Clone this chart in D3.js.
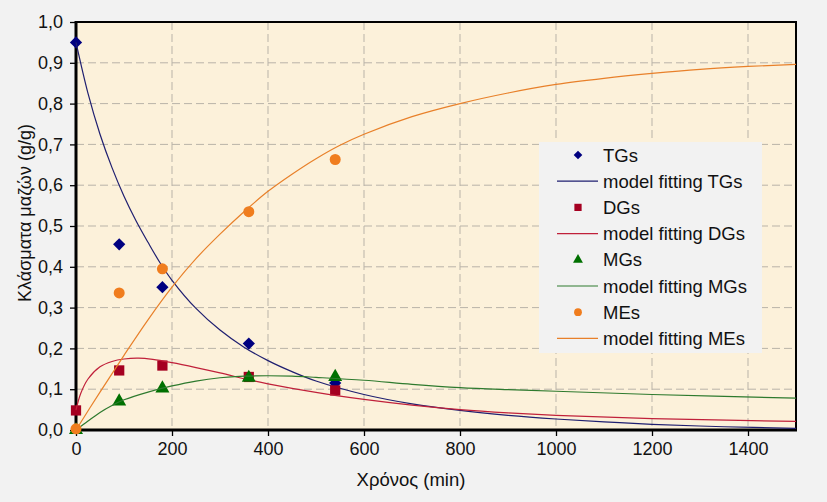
<!DOCTYPE html>
<html><head><meta charset="utf-8">
<script src="https://cdn.jsdelivr.net/npm/d3@7"></script>
<style>body{margin:0;background:#F2F2F2;}svg{display:block;font-family:"Liberation Sans",Arial,sans-serif;}</style>
</head><body>
<svg id="c" width="827" height="502"></svg>
<script>
// ---- data ----
const xTicks = [0,200,400,600,800,1000,1200,1400];
const yTicks = [0,0.1,0.2,0.3,0.4,0.5,0.6,0.7,0.8,0.9,1.0];
const sampleTimes = [0,90,180,360,540];
const tgPoints = [0.95,0.455,0.35,0.212,0.115];
const dgPoints = [0.048,0.146,0.158,0.130,0.097];
const mgPoints = [0.0,0.070,0.102,0.128,0.130];
const mePoints = [0.003,0.336,0.395,0.535,0.663];

const tgFitT = [0,25,50,75,100,125,150,175,200,250,300,350,400,450,500,600,700,800,900,1000,1100,1200,1350,1500];
const tgFitV = [0.95,0.825,0.725,0.643,0.573,0.513,0.46,0.41,0.367,0.298,0.245,0.203,0.17,0.143,0.12,0.087,0.064,0.048,0.036,0.027,0.02,0.014,0.008,0.004];
const dgFitT = [0,10,25,50,75,100,130,160,200,250,300,360,400,500,600,700,800,900,1000,1200,1500];
const dgFitV = [0.049,0.09,0.125,0.155,0.168,0.174,0.176,0.173,0.165,0.153,0.14,0.123,0.113,0.092,0.075,0.061,0.05,0.042,0.036,0.028,0.021];
const mgFitT = [0,25,50,75,100,150,200,250,300,350,400,450,500,600,700,800,900,1000,1200,1500];
const mgFitV = [0,0.022,0.043,0.06,0.074,0.093,0.108,0.12,0.128,0.132,0.133,0.132,0.129,0.122,0.112,0.104,0.099,0.095,0.087,0.078];
const meFitT = [0,50,100,150,200,250,300,350,400,450,500,550,600,700,800,900,1000,1100,1200,1300,1400,1500];
const meFitV = [0,0.093,0.183,0.27,0.35,0.42,0.48,0.535,0.585,0.627,0.665,0.698,0.725,0.768,0.80,0.826,0.847,0.862,0.874,0.884,0.891,0.896];

const seriesNames = ["TGs","DGs","MGs","MEs"];
const fitNames = ["model fitting TGs","model fitting DGs","model fitting MGs","model fitting MEs"];
const xTitle = "Χρόνος (min)";
const yTitle = "Κλάσματα μαζών (g/g)";

// ---- chart ----
const svg = d3.select("#c");
const L=76, R=796, T=22, B=430;
const x = d3.scaleLinear().domain([0,1500]).range([L,R]);
const y = d3.scaleLinear().domain([0,1]).range([B,T]);

const colors = {TG:"#000080", DG:"#A50021", MG:"#007000", ME:"#F07D1E"};
const lineColors = {TG:"#1F1F70", DG:"#C0203A", MG:"#2E7A2E", ME:"#E8802A"};

svg.append("rect").attr("x",L).attr("y",T).attr("width",R-L).attr("height",B-T).attr("fill","#FCF1DA");

// grid
const grid = svg.append("g").attr("stroke","#B9B3A8").attr("stroke-width",1).attr("stroke-dasharray","8,4");
xTicks.filter(d=>d>0).forEach(d=>grid.append("line").attr("x1",x(d)).attr("x2",x(d)).attr("y1",T).attr("y2",B));
yTicks.filter(d=>d>0 && d<1).forEach(d=>grid.append("line").attr("x1",L).attr("x2",R).attr("y1",y(d)).attr("y2",y(d)));

// axes
const fmt = d => d3.format(".1f")(d).replace(".",",");
const xAxis = svg.append("g").attr("transform",`translate(0,${B})`)
  .call(d3.axisBottom(x).tickValues(xTicks).tickFormat(d3.format("d")).tickSize(6).tickSizeOuter(0).tickPadding(6));
const yAxis = svg.append("g").attr("transform",`translate(${L},0)`)
  .call(d3.axisLeft(y).tickValues(yTicks).tickFormat(fmt).tickSize(6).tickSizeOuter(0).tickPadding(7));
[xAxis,yAxis].forEach(a=>{
  a.select(".domain").remove();
  a.selectAll(".tick line").attr("stroke","#000").attr("stroke-width",1.3);
  a.selectAll("text").attr("font-size",18).attr("fill","#111").attr("font-family","'Liberation Sans',Arial,sans-serif");
});

// frame
svg.append("line").attr("x1",L).attr("x2",R+1).attr("y1",T).attr("y2",T).attr("stroke","#000").attr("stroke-width",2);
svg.append("line").attr("x1",R).attr("x2",R).attr("y1",T).attr("y2",B).attr("stroke","#000").attr("stroke-width",2);
svg.append("line").attr("x1",L).attr("x2",L).attr("y1",T-1).attr("y2",B+1.5).attr("stroke","#000").attr("stroke-width",3);
svg.append("line").attr("x1",L-1.5).attr("x2",R+1).attr("y1",B).attr("y2",B).attr("stroke","#000").attr("stroke-width",3);

const lineGen = d3.line().x(d=>x(d[0])).y(d=>y(d[1])).curve(d3.curveCatmullRom.alpha(0.5));
const plot = svg.append("g");

const sym = {TG:d3.symbolSquare, DG:d3.symbolSquare, MG:d3.symbolTriangle, ME:d3.symbolCircle};
const rot = {TG:45, DG:0, MG:0, ME:0};
const symSize = {TG:75, DG:105, MG:85, ME:95};

function drawPoints(key, vals){
  plot.selectAll(null).data(sampleTimes.map((t,i)=>[t,vals[i]])).enter().append("path")
    .attr("d",d3.symbol().type(sym[key]).size(symSize[key]))
    .attr("transform",d=>`translate(${x(d[0])},${y(d[1])}) rotate(${rot[key]})`)
    .attr("fill",colors[key]);
}
function drawFit(key, ts, vs){
  plot.append("path").datum(ts.map((t,i)=>[t,vs[i]])).attr("d",lineGen)
    .attr("fill","none").attr("stroke",lineColors[key]).attr("stroke-width",1.2);
}
drawPoints("TG",tgPoints); drawFit("TG",tgFitT,tgFitV);
drawPoints("DG",dgPoints); drawFit("DG",dgFitT,dgFitV);
drawPoints("MG",mgPoints); drawFit("MG",mgFitT,mgFitV);
drawPoints("ME",mePoints); drawFit("ME",meFitT,meFitV);

// legend
const lg = svg.append("g");
lg.append("rect").attr("x",539).attr("y",142).attr("width",223).attr("height",211).attr("fill","#F2F2F2");
const keys = ["TG","DG","MG","ME"];
keys.forEach((k,i)=>{
  const y1 = 155 + i*52.4, y2 = y1 + 26.2;
  lg.append("path").attr("d",d3.symbol().type(sym[k]).size(symSize[k]*0.5)).attr("transform",`translate(578,${y1}) rotate(${rot[k]})`).attr("fill",colors[k]);
  lg.append("text").attr("x",603).attr("y",y1).attr("dy","0.36em").attr("font-size",18.5).attr("fill","#111").text(seriesNames[i]);
  lg.append("line").attr("x1",557).attr("x2",598).attr("y1",y2).attr("y2",y2).attr("stroke",lineColors[k]).attr("stroke-width",1.2);
  lg.append("text").attr("x",603).attr("y",y2).attr("dy","0.36em").attr("font-size",18.5).attr("fill","#111").text(fitNames[i]);
});

// titles
svg.append("text").attr("x",411).attr("y",479).attr("dy","0.36em").attr("text-anchor","middle").attr("font-size",18.5).attr("fill","#111").text(xTitle);
svg.append("text").attr("transform","translate(25,213) rotate(-90)").attr("dy","0.36em").attr("text-anchor","middle").attr("font-size",18).attr("fill","#111").text(yTitle);
</script>
</body></html>
